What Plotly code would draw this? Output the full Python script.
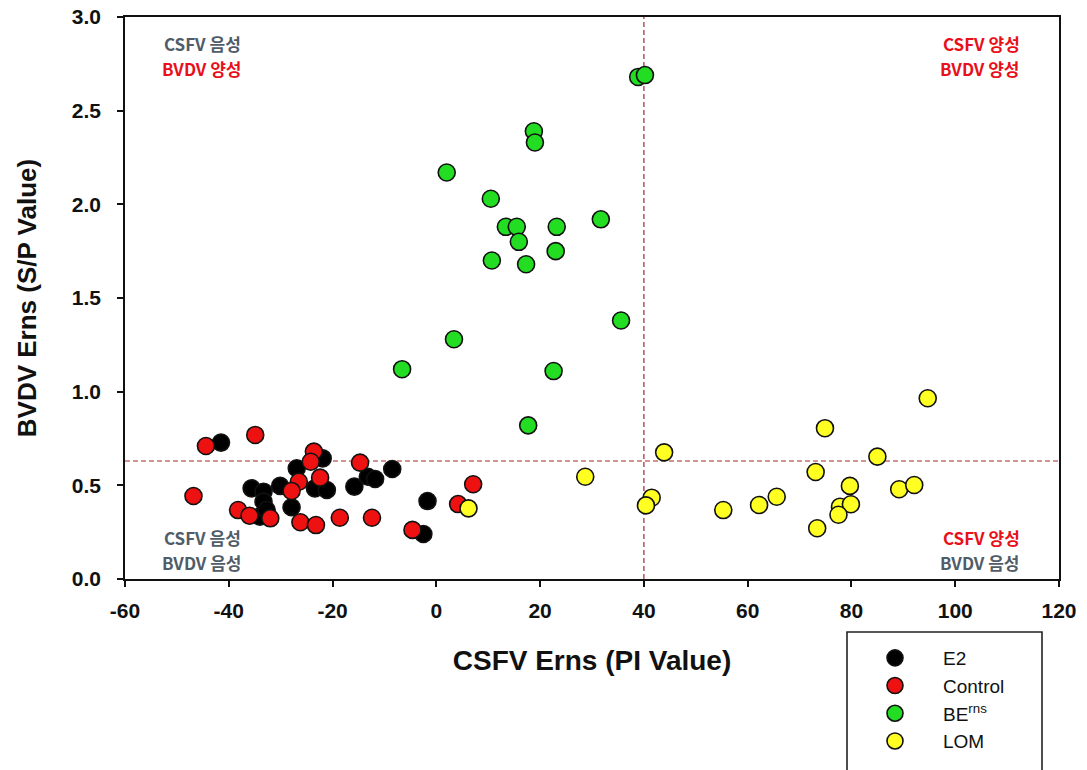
import plotly.graph_objects as go

# ---- data ----
e2_x = [-41.5, -21.9, -26.9, -8.5, -13.2, -11.8, -15.8, -35.6, -33.3, -30.1, -23.4, -21.1, -33.3, -27.9, -34.0, -32.7, -1.7, -2.5]
e2_y = [0.728, 0.644, 0.591, 0.587, 0.546, 0.534, 0.493, 0.484, 0.466, 0.497, 0.484, 0.475, 0.413, 0.383, 0.333, 0.368, 0.416, 0.240]

control_x = [-44.4, -34.9, -23.6, -24.2, -14.7, -22.4, -26.5, -27.9, -46.8, 7.1, 4.2, -38.2, -36.0, -32.0, -26.2, -23.2, -18.6, -12.4, -4.6]
control_y = [0.710, 0.769, 0.680, 0.626, 0.621, 0.541, 0.519, 0.470, 0.443, 0.506, 0.400, 0.368, 0.338, 0.324, 0.303, 0.288, 0.327, 0.327, 0.262]

berns_x = [38.9, 40.2, 18.8, 19.0, 2.0, 10.5, 31.7, 13.4, 15.5, 23.2, 15.9, 23.0, 10.7, 17.3, 35.6, 3.4, -6.6, 22.6, 17.7]
berns_y = [2.68, 2.69, 2.39, 2.33, 2.17, 2.03, 1.92, 1.88, 1.88, 1.88, 1.80, 1.75, 1.70, 1.68, 1.38, 1.28, 1.12, 1.11, 0.82]

lom_x = [94.7, 74.9, 43.9, 85.0, 28.7, 73.1, 79.7, 89.2, 92.1, 41.5, 40.4, 55.3, 62.2, 65.6, 77.8, 79.9, 77.5, 73.4, 6.2]
lom_y = [0.965, 0.805, 0.676, 0.653, 0.546, 0.571, 0.497, 0.479, 0.502, 0.434, 0.393, 0.368, 0.395, 0.439, 0.386, 0.399, 0.343, 0.271, 0.377]

series_names = ["E2", "Control", "BE<sup>rns</sup>", "LOM"]
series_colors = ["#000000", "#ee1111", "#22dd22", "#ffff22"]

cutoff_x = 40
cutoff_y = 0.63

x_ticks = [-60, -40, -20, 0, 20, 40, 60, 80, 100, 120]
y_ticks = [0.0, 0.5, 1.0, 1.5, 2.0, 2.5, 3.0]

# ---- figure ----
fig = go.Figure()
for name, xs, ys, col in zip(series_names,
                             [e2_x, control_x, berns_x, lom_x],
                             [e2_y, control_y, berns_y, lom_y],
                             series_colors):
    fig.add_trace(go.Scatter(
        x=xs, y=ys, mode="markers", name=name,
        marker=dict(size=17, color=col, line=dict(color="#111111", width=1.6)),
    ))

dash_col = "#a8262b"
fig.add_shape(type="line", xref="paper", yref="y", x0=0, x1=1, y0=cutoff_y, y1=cutoff_y,
              line=dict(color=dash_col, width=1.2, dash="5px,3px"), layer="below")
fig.add_shape(type="line", xref="x", yref="paper", x0=cutoff_x, x1=cutoff_x, y0=0, y1=1,
              line=dict(color=dash_col, width=1.2, dash="5px,3px"), layer="below")

L, R, T, B = 125, 1059, 17, 579
W, H = R - L, B - T


def px_x(p):
    return (p - L) / W


def px_y(p):
    return (B - p) / H


gray = "#505c68"
red = "#e8101a"
kfont = "Noto Sans CJK KR"
labels = [
    ("CSFV 음성", gray, 202, 43.5),
    ("BVDV 양성", red, 202, 68.5),
    ("CSFV 양성", red, 981, 43.5),
    ("BVDV 양성", red, 980, 68.5),
    ("CSFV 음성", gray, 202, 537.5),
    ("BVDV 음성", gray, 202, 562.5),
    ("CSFV 양성", red, 981, 537.5),
    ("BVDV 음성", gray, 980, 562.5),
]
for txt, col, px, py in labels:
    fig.add_annotation(
        text=txt, xref="paper", yref="paper", x=px_x(px), y=px_y(py),
        xanchor="center", yanchor="middle", showarrow=False,
        font=dict(family=kfont, size=17, color=col, weight="bold"),
    )

# legend frame
fig.add_shape(type="rect", xref="paper", yref="paper",
              x0=px_x(847), x1=px_x(1042), y0=px_y(632), y1=px_y(790),
              line=dict(color="#222222", width=1.6), fillcolor="white", layer="below")

axis_font = dict(family="Liberation Sans, Arial", size=21, color="#111111", weight="bold")
fig.update_xaxes(
    range=[-60, 120], tickvals=x_ticks, ticktext=[str(v) for v in x_ticks],
    showline=True, mirror=True, linecolor="#111111", linewidth=1.6,
    ticks="outside", ticklen=6, tickwidth=1.6, tickcolor="#111111",
    showgrid=False, zeroline=False, tickfont=axis_font, ticklabelstandoff=6,
    automargin=False,
    title=dict(text="CSFV Erns (PI Value)", standoff=29,
               font=dict(family="Liberation Sans, Arial", size=28, color="#111111", weight="bold")),
)
fig.update_yaxes(
    range=[0, 3], tickvals=y_ticks, ticktext=[f"{v:.1f}" for v in y_ticks],
    showline=True, mirror=True, linecolor="#111111", linewidth=1.6,
    ticks="outside", ticklen=6, tickwidth=1.6, tickcolor="#111111",
    showgrid=False, zeroline=False, tickfont=axis_font, ticklabelstandoff=12,
    automargin=False,
    title=dict(text="BVDV Erns (S/P Value)", standoff=28,
               font=dict(family="Liberation Sans, Arial", size=26, color="#111111", weight="bold")),
)

fig.update_layout(
    width=1087, height=770,
    margin=dict(l=L, r=1087 - R, t=T, b=770 - B, autoexpand=False),
    plot_bgcolor="white", paper_bgcolor="white",
    legend=dict(
        x=px_x(847), y=px_y(639), xanchor="left", yanchor="top",
        borderwidth=0, bgcolor="rgba(0,0,0,0)",
        font=dict(family="Liberation Sans, Arial", size=19, color="#111111"),
        itemwidth=86, tracegroupgap=0,
    ),
)

fig.write_html("out.html")
